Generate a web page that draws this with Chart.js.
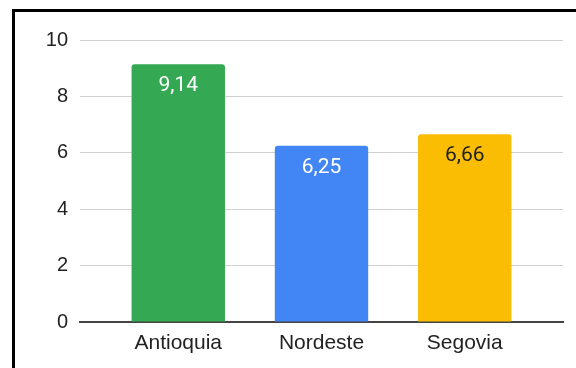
<!DOCTYPE html>
<html>
<head>
<meta charset="utf-8">
<script src="https://cdn.jsdelivr.net/npm/chart.js@4/dist/chart.umd.min.js"></script>
<style>
  html, body { margin: 0; padding: 0; background: #fff; width: 576px; height: 368px; overflow: hidden; }
  #frame { position: absolute; left: 12px; top: 9px; width: 800px; height: 600px; border: 3px solid #000; box-sizing: border-box; }
  #c { position: absolute; left: 0; top: 0; }
</style>
</head>
<body>
<div id="frame"></div>
<canvas id="c" width="576" height="368"></canvas>
<script>
const categories = ['Antioquia', 'Nordeste', 'Segovia'];
const values = [9.14, 6.25, 6.66];
const yTicks = [0, 2, 4, 6, 8, 10];

const barColors = ['#34a853', '#4285f4', '#fbbc04'];
const labelColors = ['#ffffff', '#ffffff', '#222222'];

const valueLabels = {
  id: 'valueLabels',
  afterDatasetsDraw(chart) {
    const ctx = chart.ctx;
    const meta = chart.getDatasetMeta(0);
    ctx.save();
    ctx.font = '21px Roboto';
    ctx.textAlign = 'center';
    ctx.textBaseline = 'alphabetic';
    meta.data.forEach((bar, i) => {
      ctx.fillStyle = labelColors[i];
      ctx.fillText(values[i].toFixed(2).replace('.', ','), bar.x, bar.y + 27);
    });
    ctx.restore();
  }
};

new Chart(document.getElementById('c'), {
  type: 'bar',
  data: {
    datasets: [{
      data: values.map((v, i) => ({ x: i, y: v })),
      backgroundColor: barColors,
      borderRadius: 3,
      barPercentage: 0.652,
      categoryPercentage: 1
    }]
  },
  options: {
    responsive: false,
    animation: false,
    devicePixelRatio: 1,
    layout: { padding: { top: 40, right: 13, left: 0, bottom: 0 } },
    plugins: { legend: { display: false }, tooltip: { enabled: false } },
    scales: {
      x: {
        type: 'linear',
        offset: false,
        min: -0.686,
        max: 2.686,
        afterBuildTicks: (axis) => { axis.ticks = categories.map((c, i) => ({ value: i })); },
        afterFit: (axis) => { axis.height = 46; },
        grid: { display: false, drawTicks: false, offset: false },
        border: { display: true, color: '#444444', width: 2 },
        ticks: {
          padding: 9,
          autoSkip: false,
          maxRotation: 0,
          color: '#222222',
          font: { family: 'Liberation Sans', size: 21 },
          callback: (v) => categories[v]
        }
      },
      y: {
        min: 0,
        max: 10,
        afterBuildTicks: (axis) => { axis.ticks = yTicks.map(v => ({ value: v })); },
        afterFit: (axis) => { axis.width = 80; },
        grid: { color: '#d0d0d0', lineWidth: 1, drawTicks: false },
        border: { display: false },
        ticks: {
          padding: 12,
          color: '#222222',
          font: { family: 'Liberation Sans', size: 20 }
        }
      }
    }
  },
  plugins: [valueLabels]
});
</script>
</body>
</html>
